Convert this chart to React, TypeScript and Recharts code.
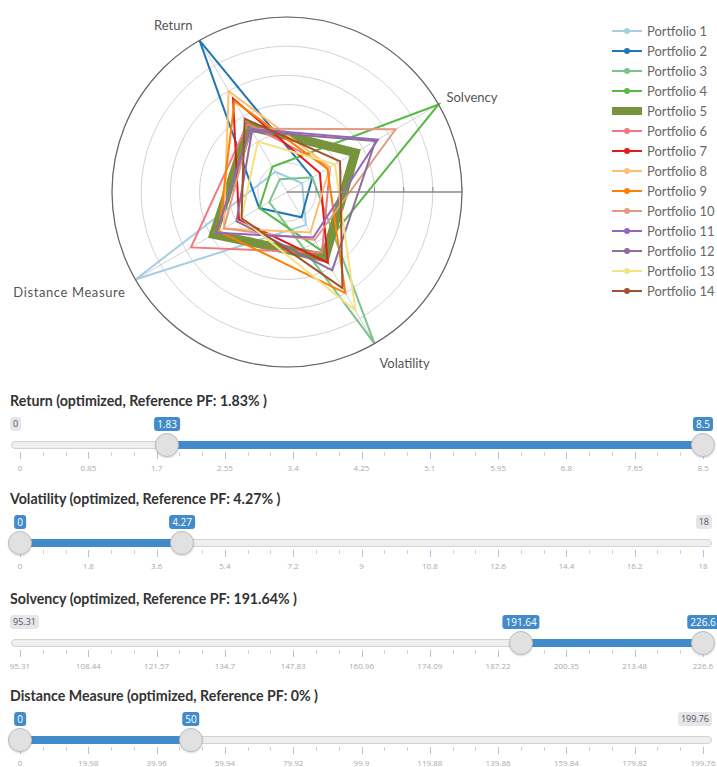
import React from 'react';
import {
  RadarChart,
  Radar,
  PolarGrid,
  PolarAngleAxis,
  PolarRadiusAxis,
  Legend
} from 'recharts';

// radar axes (clockwise from "Return")
const axes = ['Return', 'Solvency', 'Volatility', 'Distance Measure'];

const portfolioNames = [
  'Portfolio 1', 'Portfolio 2', 'Portfolio 3', 'Portfolio 4', 'Portfolio 5',
  'Portfolio 6', 'Portfolio 7', 'Portfolio 8', 'Portfolio 9', 'Portfolio 10',
  'Portfolio 11', 'Portfolio 12', 'Portfolio 13', 'Portfolio 14'
];

const portfolioColors = [
  '#a6cee3', '#1f78b4', '#7cc48e', '#5ab946', '#77933c',
  '#f4777f', '#e31a1c', '#fdbf6f', '#ff7f00', '#e59a80',
  '#9467bd', '#8c6d9e', '#f3e27f', '#a0522d'
];

// normalised scores, 0 (centre) .. 6 (outer ring)
const returnScores = [0.8, 6.0, 0.5, 1.0, 2.6, 2.7, 3.7, 4.0, 3.6, 2.5, 2.5, 2.4, 2.0, 2.9];
const solvencyScores = [0.6, 1.0, 1.0, 6.0, 2.7, 1.7, 1.3, 1.7, 1.6, 4.3, 3.6, 3.5, 1.9, 2.1];
const volatilityScores = [1.3, 1.0, 6.0, 2.3, 2.6, 2.4, 2.8, 1.6, 4.0, 1.9, 1.8, 3.1, 4.7, 3.8];
const distanceScores = [6.0, 1.1, 0.7, 1.1, 2.9, 3.8, 1.9, 2.5, 2.7, 2.5, 2.8, 2.0, 1.8, 1.8];

// range sliders under the chart
const sliderTitles = [
  'Return (optimized, Reference PF: 1.83% )',
  'Volatility (optimized, Reference PF: 4.27% )',
  'Solvency (optimized, Reference PF: 191.64% )',
  'Distance Measure (optimized, Reference PF: 0% )'
];
const sliderMins = [0, 0, 95.31, 0];
const sliderMaxs = [8.5, 18, 226.6, 199.76];
const sliderFrom = [1.83, 0, 191.64, 0];
const sliderTo = [8.5, 4.27, 226.6, 50];
const sliderTickLabels = [
  ['0', '0.85', '1.7', '2.55', '3.4', '4.25', '5.1', '5.95', '6.8', '7.65', '8.5'],
  ['0', '1.8', '3.6', '5.4', '7.2', '9', '10.8', '12.6', '14.4', '16.2', '18'],
  ['95.31', '108.44', '121.57', '134.7', '147.83', '160.96', '174.09', '187.22', '200.35', '213.48', '226.6'],
  ['0', '19.98', '39.96', '59.94', '79.92', '99.9', '119.88', '139.86', '159.84', '179.82', '199.76']
];
const sliderTops = [402, 500, 600, 697];

const axisScores = [returnScores, solvencyScores, volatilityScores, distanceScores];
const radarData = axes.map((axis, i) => {
  const row: Record<string, string | number> = { axis };
  portfolioNames.forEach((name, j) => {
    row[name] = axisScores[i][j];
  });
  return row;
});

const chartFont = 'Lato, "Open Sans", sans-serif';
const blue = '#428bca';

function AngleTick(props: any) {
  const { x, y, cx, cy, payload } = props;
  const dx = x - cx;
  const up = (cy - y) / Math.hypot(x - cx, y - cy);
  const wide = payload.value === 'Distance Measure';
  return (
    <text
      x={dx > 0 ? x + 1 : x - 3}
      y={y + 7 - 12 * up}
      textAnchor={dx > 0 ? 'start' : 'end'}
      fill="#555"
      fontSize={13}
      letterSpacing={wide ? 0.6 : 0}
      fontFamily={chartFont}
    >
      {payload.value}
    </text>
  );
}

function RadiusTick(props: any) {
  const { x, y, payload } = props;
  if (payload.value === 0) return <g />;
  return <line x1={x} x2={x} y1={y} y2={y - 5} stroke="#888" strokeWidth={1} />;
}

function LegendList() {
  return (
    <div style={{ fontFamily: chartFont, fontSize: 13, color: '#666' }}>
      {portfolioNames.map((name, i) => (
        <div key={name} style={{ height: 20, display: 'flex', alignItems: 'center' }}>
          <svg width={30} height={12} style={{ marginRight: 5 }}>
            {i === 4 ? (
              <rect x={0} y={2} width={30} height={8} fill={portfolioColors[i]} />
            ) : (
              <>
                <line x1={0} x2={30} y1={6} y2={6} stroke={portfolioColors[i]} strokeWidth={2} />
                <circle cx={15} cy={6} r={3} fill={portfolioColors[i]} />
              </>
            )}
          </svg>
          <span>{name}</span>
        </div>
      ))}
    </div>
  );
}

function RangeSlider({ i }: { i: number }) {
  const min = sliderMins[i];
  const max = sliderMaxs[i];
  const gridLeft = 20;
  const gridWidth = 683;
  const toX = (v: number) => gridLeft + ((v - min) / (max - min)) * gridWidth;
  const xFrom = toX(sliderFrom[i]);
  const xTo = toX(sliderTo[i]);
  const labelBox: React.CSSProperties = {
    position: 'absolute',
    top: 15,
    height: 14,
    lineHeight: '14px',
    padding: '0 3px',
    borderRadius: 3,
    fontSize: 9,
    whiteSpace: 'nowrap'
  };
  const bubble: React.CSSProperties = {
    ...labelBox,
    background: blue,
    color: '#fff',
    fontSize: 10,
    transform: 'translateX(-50%)'
  };
  const handle = (x: number): React.CSSProperties => ({
    position: 'absolute',
    left: x - 12,
    top: 31,
    width: 24,
    height: 24,
    boxSizing: 'border-box',
    borderRadius: '50%',
    background: '#e1e1e1',
    border: '1px solid #bcbcbc',
    boxShadow: '0 1px 2px rgba(0,0,0,0.15)'
  });
  const ticks = Array.from({ length: 31 }, (_, k) => k);

  return (
    <div style={{ position: 'absolute', left: 0, top: sliderTops[i], width: 717, height: 80, fontFamily: '"Open Sans", Lato, sans-serif' }}>
      <div style={{ position: 'absolute', left: 10, top: -10, lineHeight: '18px', fontSize: 14.2, fontWeight: 700, color: '#333', fontFamily: 'Lato, sans-serif', whiteSpace: 'nowrap' }}>
        {sliderTitles[i]}
      </div>
      {sliderFrom[i] !== min && (
        <div style={{ ...labelBox, left: 10, background: '#e4e6ea', color: '#555' }}>{sliderTickLabels[i][0]}</div>
      )}
      {sliderTo[i] !== max && (
        <div style={{ ...labelBox, right: 5, background: '#e4e6ea', color: '#555' }}>{sliderTickLabels[i][10]}</div>
      )}
      <div style={{ ...bubble, left: xFrom }}>{sliderFrom[i]}</div>
      <div style={{ ...bubble, left: xTo }}>{sliderTo[i]}</div>
      <div style={{ position: 'absolute', left: 11, top: 39, width: 701, height: 8, boxSizing: 'border-box', background: '#efefef', border: '1px solid #d2d2d2', borderRadius: 4 }} />
      <div style={{ position: 'absolute', left: xFrom, top: 39, width: xTo - xFrom, height: 8, background: blue }} />
      {ticks.map((k) => (
        <div
          key={k}
          style={{
            position: 'absolute',
            left: gridLeft + (k * gridWidth) / 30,
            top: 50,
            width: 1,
            height: k % 3 === 0 ? 7 : 4,
            background: k % 3 === 0 ? '#a9c8e8' : '#d0d0d0'
          }}
        />
      ))}
      {sliderTickLabels[i].map((label, m) => (
        <div
          key={m}
          style={{
            position: 'absolute',
            left: gridLeft + (m * gridWidth) / 10,
            top: 60,
            transform: 'translateX(-50%)',
            fontSize: 8,
            color: '#aaa',
            whiteSpace: 'nowrap'
          }}
        >
          {label}
        </div>
      ))}
      <div style={handle(xFrom)} />
      <div style={handle(xTo)} />
    </div>
  );
}

export default function App() {
  return (
    <div style={{ position: 'absolute', left: 0, top: 0, width: 717, height: 767, background: '#fff', overflow: 'hidden' }}>
      <RadarChart
        width={717}
        height={385}
        data={radarData}
        cx={287}
        cy={192}
        outerRadius={175}
        startAngle={120}
        endAngle={-240}
        margin={{ top: 0, right: 0, bottom: 0, left: 0 }}
      >
        <PolarGrid gridType="circle" stroke="#d3d3d3" />
        <PolarAngleAxis
          dataKey="axis"
          axisLineType="circle"
          axisLine={{ stroke: '#666', strokeWidth: 1.2 }}
          tickLine={false}
          tick={<AngleTick />}
        />
        <PolarRadiusAxis
          angle={0}
          domain={[0, 6]}
          tickCount={7}
          axisLine={{ stroke: '#888', strokeWidth: 1.5 }}
          tick={<RadiusTick />}
        />
        {portfolioNames.map((name, i) => (
          <Radar
            key={name}
            name={name}
            dataKey={name}
            stroke={portfolioColors[i]}
            strokeWidth={i === 4 ? 9 : 2}
            fill="none"
            fillOpacity={0}
            dot={i === 4 ? false : { r: 3, fill: portfolioColors[i], stroke: 'none' }}
            isAnimationActive={false}
          />
        ))}
        <Legend
          layout="vertical"
          align="right"
          verticalAlign="top"
          wrapperStyle={{ position: 'absolute', left: 612, top: 21, width: 105 }}
          content={() => <LegendList />}
        />
      </RadarChart>
      {sliderTitles.map((_, i) => (
        <RangeSlider key={i} i={i} />
      ))}
    </div>
  );
}
